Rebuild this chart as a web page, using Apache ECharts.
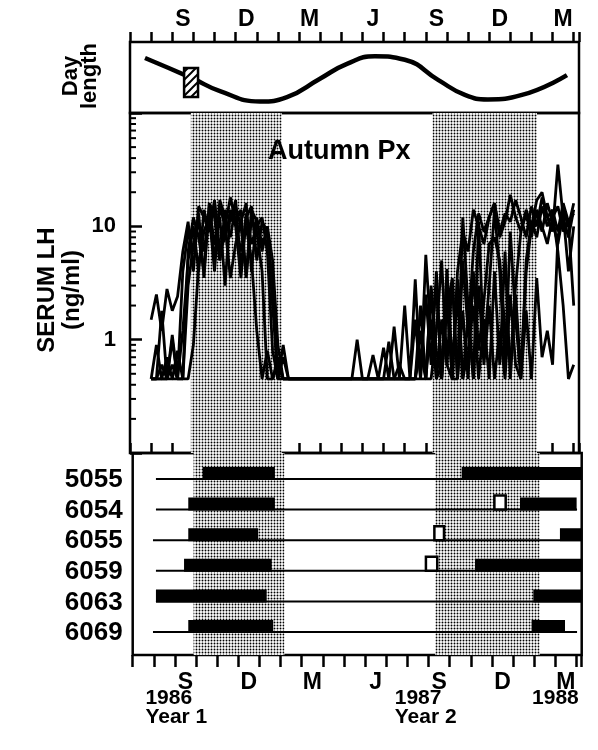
<!DOCTYPE html>
<html><head><meta charset="utf-8">
<script src="https://cdn.jsdelivr.net/npm/echarts@6/dist/echarts.min.js"></script>
<style>html,body{margin:0;padding:0;background:#fff}#c{width:598px;height:750px}</style>
</head><body><div id="c"></div>
<script>
// ---- x axis: months since 1 Jul 1986 ----
const monthLabels = ['S','D','M','J','S','D','M'];
const monthLabelIdx = [2,5,8,11,14,17,20];
const xMin = 0, xMax = 21.25;

// ---- day length panel ----
const dayMonths = [0.71,2.93,4.26,6.15,7.43,8.99,10.27,11.59,13.01,14.58,15.85,16.94,18.55,20.68];
const dayHours  = [15.3,11.9,9.7,7.95,8.7,11.8,14.3,15.6,15.0,11.6,9.05,8.3,9.05,12.4];
const boxMonths = [2.56,3.22];
const boxHours  = [8.7,13.6];

// ---- serum LH (ng/ml), weekly samples ----
const lhMonths = [1,1.25,1.5,1.75,2,2.25,2.5,2.75,3,3.25,3.5,3.75,4,4.25,4.5,4.75,5,5.25,5.5,5.75,6,6.25,6.5,6.75,7,7.25,7.5,7.75,8,8.25,8.5,8.75,9,9.25,9.5,9.75,10,10.25,10.5,10.75,11,11.25,11.5,11.75,12,12.25,12.5,12.75,13,13.25,13.5,13.75,14,14.25,14.5,14.75,15,15.25,15.5,15.75,16,16.25,16.5,16.75,17,17.25,17.5,17.75,18,18.25,18.5,18.75,19,19.25,19.5,19.75,20,20.25,20.5,20.75,21];
const lh5055 = [0.45,0.45,0.6,0.45,0.45,0.8,0.45,0.45, 0.9,4.5,9,12,5,15,10,3.5, 7,11,16,4,12,6,10,5, 0.9,0.45,0.45,0.45,0.45,0.45,0.45,0.45, 0.45,0.45,0.45,0.45,0.45,0.45,0.45,0.45, 0.45,0.45,0.45,0.45,0.45,0.45,0.45,0.45, 0.45,0.45,0.45,0.8,0.45,1.5,0.45,0.6, 2.5,0.45,4,9,6,14,10,7, 12,16,9,13,11,17,12,8, 15,10,18,12,14,9,16,11, 13];
const lh6054 = [0.45,0.45,0.45,0.7,0.45,0.45,1.2,5, 10,4,14,9,17,6,8,13, 10,3.5,12,15,5,11,9,3, 0.45,0.7,0.45,0.45,0.45,0.45,0.45,0.45, 0.45,0.45,0.45,0.45,0.45,0.45,0.45,0.45, 0.45,0.45,0.45,0.45,0.45,0.45,0.45,0.45, 0.45,0.45,0.45,1.2,0.45,2.8,0.45,1.5, 0.6,3.5,0.45,1.8,0.45,4,0.8,2.2, 7,8,5,1.2,0.6,3,9,13, 8,14,10,7,12,15,9,11, 2];
const lh6055 = [0.45,0.9,0.45,0.45,1.1,0.45,0.45,6, 12,8,4,15,7,12,3,14, 11,6,10,5,1.2,0.45,0.8,0.45, 0.6,0.45,0.45,0.45,0.45,0.45,0.45,0.45, 0.45,0.45,0.45,0.45,0.45,0.45,0.45,1.0, 0.45,0.45,0.73,0.45,0.85,0.45,1.3,0.45, 2.0,0.45,3.4,0.45,5.6,1.0,3,0.45, 4.2,0.6,2.5,0.45,1.5,0.45,3,0.6, 2,0.45,1.2,0.45,2.5,0.6,0.45,1.8, 0.45,3.5,0.7,1.2,0.6,8,14,10, 16];
const lh6059 = [0.45,0.45,0.45,0.45,0.6,0.45,4,9, 6,13,3.5,16,12,5,14,11, 17,4,13,7,10,12,6,0.8, 0.45,0.45,0.45,0.45,0.45,0.45,0.45,0.45, 0.45,0.45,0.45,0.45,0.45,0.45,0.45,0.45, 0.45,0.45,0.45,0.45,0.45,0.45,0.45,0.6, 0.45,0.45,1.5,0.45,2.5,0.6,4,0.45, 2,3.4,0.45,5,1.2,6,13,9, 12,16,8,11,19,12,9,14, 10,17,20,12,9,35,12,8, 14];
const lh6063 = [1.5,2.5,1.2,2.8,1.8,2.4,6,11, 4,15,12,9,16,5,10,18, 11,14,3.5,12,9,4,0.45,0.45, 0.7,0.45,0.45,0.45,0.45,0.45,0.45,0.45, 0.45,0.45,0.45,0.45,0.45,0.45,0.45,0.45, 0.45,0.45,0.45,0.45,0.45,0.96,0.45,0.45, 0.45,0.45,0.45,2,0.45,0.45,1.2,5, 0.6,0.45,3.4,0.45,0.8,2,0.45,1.5, 0.45,4,0.6,6,0.45,2.5,0.5,4, 10,13,9,16,11,7,13,4, 10];
const lh6069 = [0.45,0.45,1.8,0.45,1.0,0.45,0.45,3, 7,11,6,13,4,17,12,8, 15,10,3.8,14,11,7,9,2, 0.45,0.9,0.45,0.45,0.45,0.45,0.45,0.45, 0.45,0.45,0.45,0.45,0.45,0.45,0.45,0.45, 0.45,0.45,0.45,0.45,0.45,0.45,0.45,0.45, 0.45,0.45,0.45,0.45,0.45,3,0.8,0.45, 2.2,0.45,0.45,12,2,0.45,11,0.8, 3,14,4,0.6,9,1.5,0.45,5, 11,8,15,10,13,6,2,0.45, 0.6];
const lhSeries = [lh5055, lh6054, lh6055, lh6059, lh6063, lh6069];
const logTickLabels = [1, 10];
const logMinorTicks = [0.2,0.3,0.4,0.5,0.6,0.7,0.8,0.9,2,3,4,5,6,7,8,9,20,30,40,50,60,70,80,90];

// ---- autumn shading ----
const shadeStarts = [2.88, 14.32];
const shadeEnds   = [7.18, 19.26];

// ---- per-animal activity bars ----
const rowLabels  = ['5055','6054','6055','6059','6063','6069'];
const lineStarts = [1.10, 1.10, 0.96, 1.10, 1.10, 0.96];
const lineEnds   = [21.25, 21.03, 21.25, 21.25, 21.25, 21.03];
const bar1Starts = [3.31, 2.63, 2.63, 2.43, 1.10, 2.63];
const bar1Ends   = [6.73, 6.73, 5.94, 6.58, 6.34, 6.65];
const bar2Starts = [15.57, 18.33, 20.22, 16.20, 18.96, 18.88];
const bar2Ends   = [21.25, 21.01, 21.25, 21.25, 21.25, 20.46];
const squareRows   = [1, 2, 3];
const squareStarts = [17.07, 14.23, 13.83];
const squareEnds   = [17.70, 14.78, 14.46];

// ---- year captions ----
const yearLabelMonths = [0.6, 12.4, 18.9];
const yearLabels = ['1986\nYear 1', '1987\nYear 2', '1988'];

const FONT = '"Liberation Sans", Arial, sans-serif';

function stipple(){
  const c = document.createElement('canvas'); c.width = 3; c.height = 3;
  const g = c.getContext('2d');
  g.fillStyle = '#fff'; g.fillRect(0,0,3,3);
  g.fillStyle = '#000';
  g.beginPath(); g.arc(1.5,1.5,0.95,0,Math.PI*2); g.fill();
  return c;
}
function hatch(){
  const c = document.createElement('canvas'); c.width = 8; c.height = 8;
  const g = c.getContext('2d');
  g.fillStyle = '#fff'; g.fillRect(0,0,8,8);
  g.strokeStyle = '#000'; g.lineWidth = 2;
  g.beginPath(); g.moveTo(0,8); g.lineTo(8,0); g.moveTo(-2,2); g.lineTo(2,-2); g.moveTo(6,10); g.lineTo(10,6); g.stroke();
  return c;
}
const stipplePattern = {image: stipple(), repeat: 'repeat'};
const hatchPattern = {image: hatch(), repeat: 'repeat'};

const tickStyle = {color: '#000', width: 2.5};
const labelFont = {color: '#000', fontFamily: FONT, fontWeight: 'bold', fontSize: 23};
function monthFormatter(v){
  const k = monthLabelIdx.findIndex(i => Math.abs(i + 0.5 - v) < 1e-6);
  return k >= 0 ? monthLabels[k] : '';
}
const none = {show: false};
const noLine = {show: false, onZero: false};

const grids = [
  {left: 130, top: 42, width: 449, height: 71},
  {left: 130, top: 113, width: 449, height: 340},
  {left: 132.7, top: 453, width: 449, height: 202}
].map(g => Object.assign({show: true, borderColor: '#000', borderWidth: 2.5, backgroundColor: 'transparent', containLabel: false, outerBoundsMode: 'none'}, g));

const xAxes = [
  {gridIndex: 0, type: 'value', position: 'top', min: xMin, max: xMax, interval: 1,
   axisLine: noLine, axisLabel: none, splitLine: none,
   axisTick: {show: true, inside: false, length: 10, lineStyle: tickStyle}},
  {gridIndex: 0, type: 'value', position: 'top', min: xMin, max: xMax, interval: 0.5,
   axisLine: noLine, axisTick: none, splitLine: none,
   axisLabel: Object.assign({show: true, margin: 11, formatter: monthFormatter}, labelFont)},
  {gridIndex: 1, type: 'value', position: 'bottom', min: xMin, max: xMax, interval: 1,
   axisLine: noLine, axisLabel: none, splitLine: none,
   axisTick: {show: true, inside: true, length: 10, lineStyle: tickStyle}},
  {gridIndex: 2, type: 'value', position: 'bottom', min: xMin, max: xMax, interval: 1,
   axisLine: noLine, axisLabel: none, splitLine: none,
   axisTick: {show: true, inside: false, length: 12, lineStyle: tickStyle}},
  {gridIndex: 2, type: 'value', position: 'bottom', min: xMin, max: xMax, interval: 0.5,
   axisLine: noLine, axisTick: none, splitLine: none,
   axisLabel: Object.assign({show: true, margin: 16, formatter: monthFormatter}, labelFont)}
];
const yAxes = [
  {gridIndex: 0, type: 'value', min: 6, max: 18, show: false},
  {gridIndex: 1, type: 'log', logBase: 10, min: 0.1, max: 100,
   axisLine: noLine, splitLine: none,
   axisTick: {show: true, inside: true, length: 12, lineStyle: tickStyle},
   axisLabel: Object.assign({show: true, margin: 14,
     formatter: v => { const k = logTickLabels.findIndex(t => Math.abs(t - v) < 1e-6); return k >= 0 ? String(logTickLabels[k]) : ''; }}, labelFont, {fontSize: 22})},
  {gridIndex: 2, type: 'value', min: -0.85, max: 5.75, inverse: true, show: false}
];

function shadeSeries(xi, yi, yRef){
  return {type: 'custom', xAxisIndex: xi, yAxisIndex: yi, z: 1, silent: true,
    data: shadeStarts.map((s, i) => [s, shadeEnds[i]]),
    encode: {x: [0, 1]},
    renderItem: (params, api) => {
      const cs = params.coordSys;
      const x0 = api.coord([api.value(0), yRef])[0];
      const x1 = api.coord([api.value(1), yRef])[0];
      return {type: 'rect', shape: {x: x0, y: cs.y, width: x1 - x0, height: cs.height},
              style: {fill: stipplePattern}};
    }};
}

const series = [
  shadeSeries(2, 1, 1),
  shadeSeries(3, 2, 0),
  // minor log ticks
  {type: 'custom', xAxisIndex: 2, yAxisIndex: 1, z: 5, silent: true,
   data: logMinorTicks.map(v => [xMin, v]),
   renderItem: (params, api) => {
     const p = api.coord([api.value(0), api.value(1)]);
     return {type: 'line', shape: {x1: p[0], y1: p[1], x2: p[0] + 6, y2: p[1]}, style: {stroke: '#000', lineWidth: 2}};
   }},
  // LH traces
  ...lhSeries.map((arr, k) => ({
    type: 'line', name: rowLabels[k], xAxisIndex: 2, yAxisIndex: 1, z: 3,
    data: lhMonths.map((m, i) => [m, arr[i]]),
    showSymbol: false, symbol: 'none', smooth: false,
    lineStyle: {color: '#000', width: 2.8}, silent: true
  })),
  // day length
  {type: 'line', xAxisIndex: 0, yAxisIndex: 0, z: 3, silent: true,
   data: dayMonths.map((m, i) => [m, dayHours[i]]),
   showSymbol: false, symbol: 'none', smooth: 0.5,
   lineStyle: {color: '#000', width: 4.5}},
  // hatched box on day length
  {type: 'custom', xAxisIndex: 0, yAxisIndex: 0, z: 4, silent: true,
   data: [[boxMonths[0], boxHours[0], boxMonths[1], boxHours[1]]],
   encode: {x: [0, 2], y: [1, 3]},
   renderItem: (params, api) => {
     const a = api.coord([api.value(0), api.value(3)]);
     const b = api.coord([api.value(2), api.value(1)]);
     return {type: 'rect', shape: {x: a[0], y: a[1], width: b[0] - a[0], height: b[1] - a[1]},
             style: {fill: hatchPattern, stroke: '#000', lineWidth: 2.5}};
   }},
  // row baselines
  {type: 'custom', xAxisIndex: 3, yAxisIndex: 2, z: 3, silent: true,
   data: rowLabels.map((_, i) => [lineStarts[i], lineEnds[i], i]),
   encode: {x: [0, 1], y: 2},
   renderItem: (params, api) => {
     const a = api.coord([api.value(0), api.value(2)]);
     const b = api.coord([api.value(1), api.value(2)]);
     return {type: 'line', shape: {x1: a[0], y1: a[1], x2: b[0], y2: b[1]}, style: {stroke: '#000', lineWidth: 2}};
   }},
  // black activity bars
  {type: 'custom', xAxisIndex: 3, yAxisIndex: 2, z: 4, silent: true,
   data: rowLabels.map((_, i) => [bar1Starts[i], bar1Ends[i], i])
         .concat(rowLabels.map((_, i) => [bar2Starts[i], bar2Ends[i], i])),
   encode: {x: [0, 1], y: 2},
   renderItem: (params, api) => {
     const a = api.coord([api.value(0), api.value(2)]);
     const b = api.coord([api.value(1), api.value(2)]);
     const h = 12;
     return {type: 'rect', shape: {x: a[0], y: a[1] - h, width: b[0] - a[0], height: h + 1}, style: {fill: '#000'}};
   }},
  // open squares
  {type: 'custom', xAxisIndex: 3, yAxisIndex: 2, z: 5, silent: true,
   data: squareRows.map((r, i) => [squareStarts[i], squareEnds[i], r]),
   encode: {x: [0, 1], y: 2},
   renderItem: (params, api) => {
     const a = api.coord([api.value(0), api.value(2)]);
     const b = api.coord([api.value(1), api.value(2)]);
     const h = 14;
     return {type: 'rect', shape: {x: a[0] + 1, y: a[1] - h, width: b[0] - a[0] - 2, height: h}, style: {fill: '#fff', stroke: '#000', lineWidth: 2.5}};
   }},
  // row labels
  {type: 'custom', xAxisIndex: 3, yAxisIndex: 2, z: 5, silent: true,
   data: rowLabels.map((_, i) => [xMin, i]),
   renderItem: (params, api) => {
     const p = api.coord([api.value(0), api.value(1)]);
     return {type: 'text', x: p[0] - 10, y: p[1] + 1,
       style: {text: rowLabels[params.dataIndex], font: 'bold 26px ' + FONT, fill: '#000',
               align: 'right', textAlign: 'right', verticalAlign: 'middle', textVerticalAlign: 'middle'}};
   }},
  // year captions
  {type: 'custom', xAxisIndex: 3, yAxisIndex: 2, z: 5, silent: true,
   data: yearLabelMonths.map(m => [m, 5.75]),
   renderItem: (params, api) => {
     const p = api.coord([api.value(0), api.value(1)]);
     return {type: 'text', x: p[0], y: p[1] + 34,
       style: {text: yearLabels[params.dataIndex], font: 'bold 21px ' + FONT, fill: '#000', lineHeight: 19,
               align: 'left', textAlign: 'left', verticalAlign: 'top', textVerticalAlign: 'top'}};
   }}
];

function vtext(txt, x, y, size){
  return {type: 'text', x: x, y: y, z: 20, rotation: Math.PI / 2,
    style: {text: txt, font: 'bold ' + size + 'px ' + FONT, fill: '#000',
            align: 'center', textAlign: 'center', verticalAlign: 'middle', textVerticalAlign: 'middle'}};
}

const chart = echarts.init(document.getElementById('c'), null, {renderer: 'canvas'});
chart.setOption({
  animation: false,
  backgroundColor: '#fff',
  grid: grids,
  xAxis: xAxes,
  yAxis: yAxes,
  series: series,
  graphic: [
    vtext('Day', 71, 76, 22),
    vtext('length', 90, 76, 22),
    vtext('SERUM LH', 47, 290, 24),
    vtext('(ng/ml)', 72, 290, 24),
    {type: 'text', x: 268, y: 152, z: 20,
     style: {text: 'Autumn Px', font: 'bold 27px ' + FONT, fill: '#000',
             align: 'left', textAlign: 'left', verticalAlign: 'middle', textVerticalAlign: 'middle'}}
  ]
});
</script></body></html>
